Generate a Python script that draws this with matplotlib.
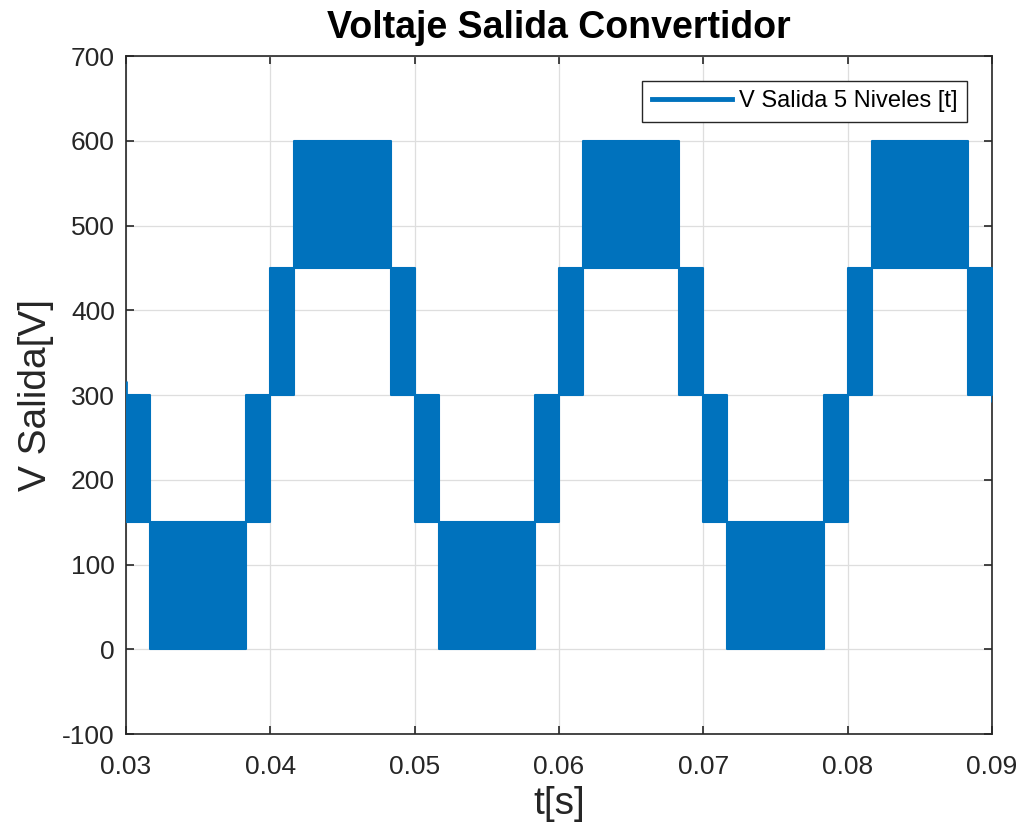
"""
Salida de un convertidor multinivel (5 niveles), bandas PWM.
"""

import matplotlib
matplotlib.use('Agg')
import matplotlib.pyplot as plt
from matplotlib.lines import Line2D

# instantes de cambio de nivel [s]
t_breaks = [0.0300, 0.03167, 0.03833, 0.0400, 0.04167, 0.04833, 0.0500,
            0.05167, 0.05833, 0.0600, 0.06167, 0.06833, 0.0700, 0.07167,
            0.07833, 0.0800, 0.08167, 0.08833, 0.0900]
# nivel inferior y superior de la conmutacion en cada tramo [V]
band_low = [150, 0, 150, 300, 450, 300, 150, 0, 150, 300, 450, 300,
            150, 0, 150, 300, 450, 300]
band_high = [300, 150, 300, 450, 600, 450, 300, 150, 300, 450, 600, 450,
             300, 150, 300, 450, 600, 450]
# picos sueltos al inicio y final de la ventana
spike_t = [0.0300, 0.0900]
spike_lo = [300, 292]
spike_hi = [316, 300]

x_ticks = [0.03, 0.04, 0.05, 0.06, 0.07, 0.08, 0.09]
y_ticks = [-100, 0, 100, 200, 300, 400, 500, 600, 700]

blue = '#0072BD'
dark = '#262626'

plt.rcParams['font.family'] = ['Liberation Sans', 'DejaVu Sans']

fig = plt.figure(figsize=(10.21, 8.31), dpi=100)
ax = fig.add_axes([0.1234, 0.1167, 0.8482, 0.8159])

# cada tramo es una banda solida por la alta frecuencia de conmutacion
for i in range(len(band_low)):
    ax.fill_between([t_breaks[i], t_breaks[i + 1]],
                    [band_low[i], band_low[i]],
                    [band_high[i], band_high[i]],
                    facecolor=blue, edgecolor=blue, linewidth=1.5, zorder=3)
ax.vlines(spike_t, spike_lo, spike_hi, color=blue, linewidth=2, zorder=3)

ax.set_xlim(0.03, 0.09)
ax.set_ylim(-100, 700)
ax.set_xticks(x_ticks)
ax.set_xticklabels([f'{v:.2f}' for v in x_ticks])
ax.set_yticks(y_ticks)
ax.set_yticklabels([str(v) for v in y_ticks])

ax.grid(True, color='#dedede', linewidth=0.9)
ax.set_axisbelow(True)
ax.tick_params(direction='in', length=6, width=1.2, colors=dark,
               labelsize=19, top=True, right=True)
ax.tick_params(axis='x', pad=15)
ax.tick_params(axis='y', pad=8)
for side in ax.spines.values():
    side.set_color(dark)
    side.set_linewidth(1.2)

ax.set_title('Voltaje Salida Convertidor', fontsize=27, fontweight='bold',
             pad=13)
ax.set_xlabel('t[s]', fontsize=28, color=dark, labelpad=5)
ax.set_ylabel('V Salida[V]', fontsize=28, color=dark, labelpad=6)

handle = Line2D([], [], color=blue, linewidth=3.5)
leg = ax.legend([handle], ['V Salida 5 Niveles [t]'], loc='upper right',
                bbox_to_anchor=(0.9711, 0.9631), borderaxespad=0,
                fontsize=17, fancybox=False, framealpha=1,
                handlelength=3.4, handletextpad=0.3, borderpad=0.4)
leg.get_frame().set_edgecolor(dark)
leg.get_frame().set_linewidth(1.0)

fig.savefig('out.png', dpi=100)
